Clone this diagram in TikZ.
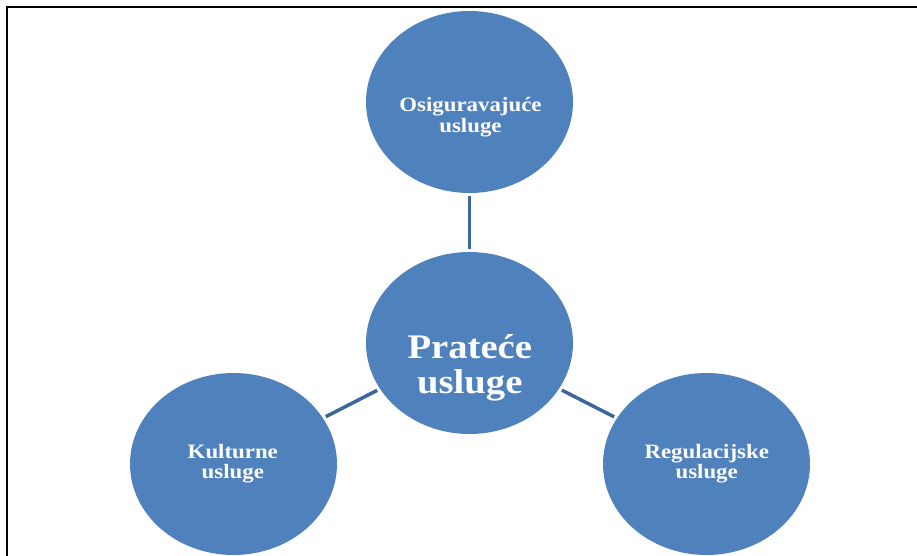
\documentclass[tikz,border=0pt]{standalone}
\usepackage{fontspec}
\usetikzlibrary{shapes.geometric}
\newfontfamily\lblfont{Liberation Serif}[FakeStretch=1.12]
\definecolor{ballfill}{HTML}{4F81BD}
\definecolor{linkcol}{HTML}{3D679B}
\tikzset{
  ball/.style={ellipse, fill=ballfill, draw=none, inner sep=0pt, minimum width=207pt, minimum height=182pt},
  link/.style={draw=linkcol, line width=3.5pt, shorten >=3pt, shorten <=3pt},
  small/.style={anchor=base, text=white, inner sep=0pt, font=\lblfont\bfseries\fontsize{20.4pt}{21pt}\selectfont},
  big/.style={anchor=base, text=white, inner sep=0pt, font=\lblfont\bfseries\fontsize{34.5pt}{35pt}\selectfont},
  frame/.style={draw=black, line width=2.5pt}
}
\begin{document}
\begin{tikzpicture}[x=1pt, y=-1pt]
\useasboundingbox (0,0) rectangle (917,556);
\coordinate (fr1) at (917,7);
\coordinate (fr2) at (7,7);
\coordinate (fr3) at (7,560);
\draw[frame] (fr1) -- (fr2) -- (fr3);

\node[ball] (top) at (469.5,102) {};
\node[ball] (ctr) at (469.5,343) {};
\node[ball] (lft) at (233.5,464) {};
\node[ball] (rgt) at (706.5,464) {};

\draw[link] (top) -- (ctr);
\draw[link] (ctr) -- (lft);
\draw[link] (ctr) -- (rgt);

\node[small] (topa) at (470.5,112) {Osiguravajuće};
\node[small] (topb) at (470.5,132.7) {usluge};
\node[big] (ctra) at (469.8,358.3) {Prateće};
\node[big] (ctrb) at (469.8,393.3) {usluge};
\node[small] (lfta) at (232.8,458.3) {Kulturne};
\node[small] (lftb) at (232.8,478.3) {usluge};
\node[small] (rgta) at (706.7,458.3) {Regulacijske};
\node[small] (rgtb) at (706.7,478.3) {usluge};
\end{tikzpicture}
\end{document}
